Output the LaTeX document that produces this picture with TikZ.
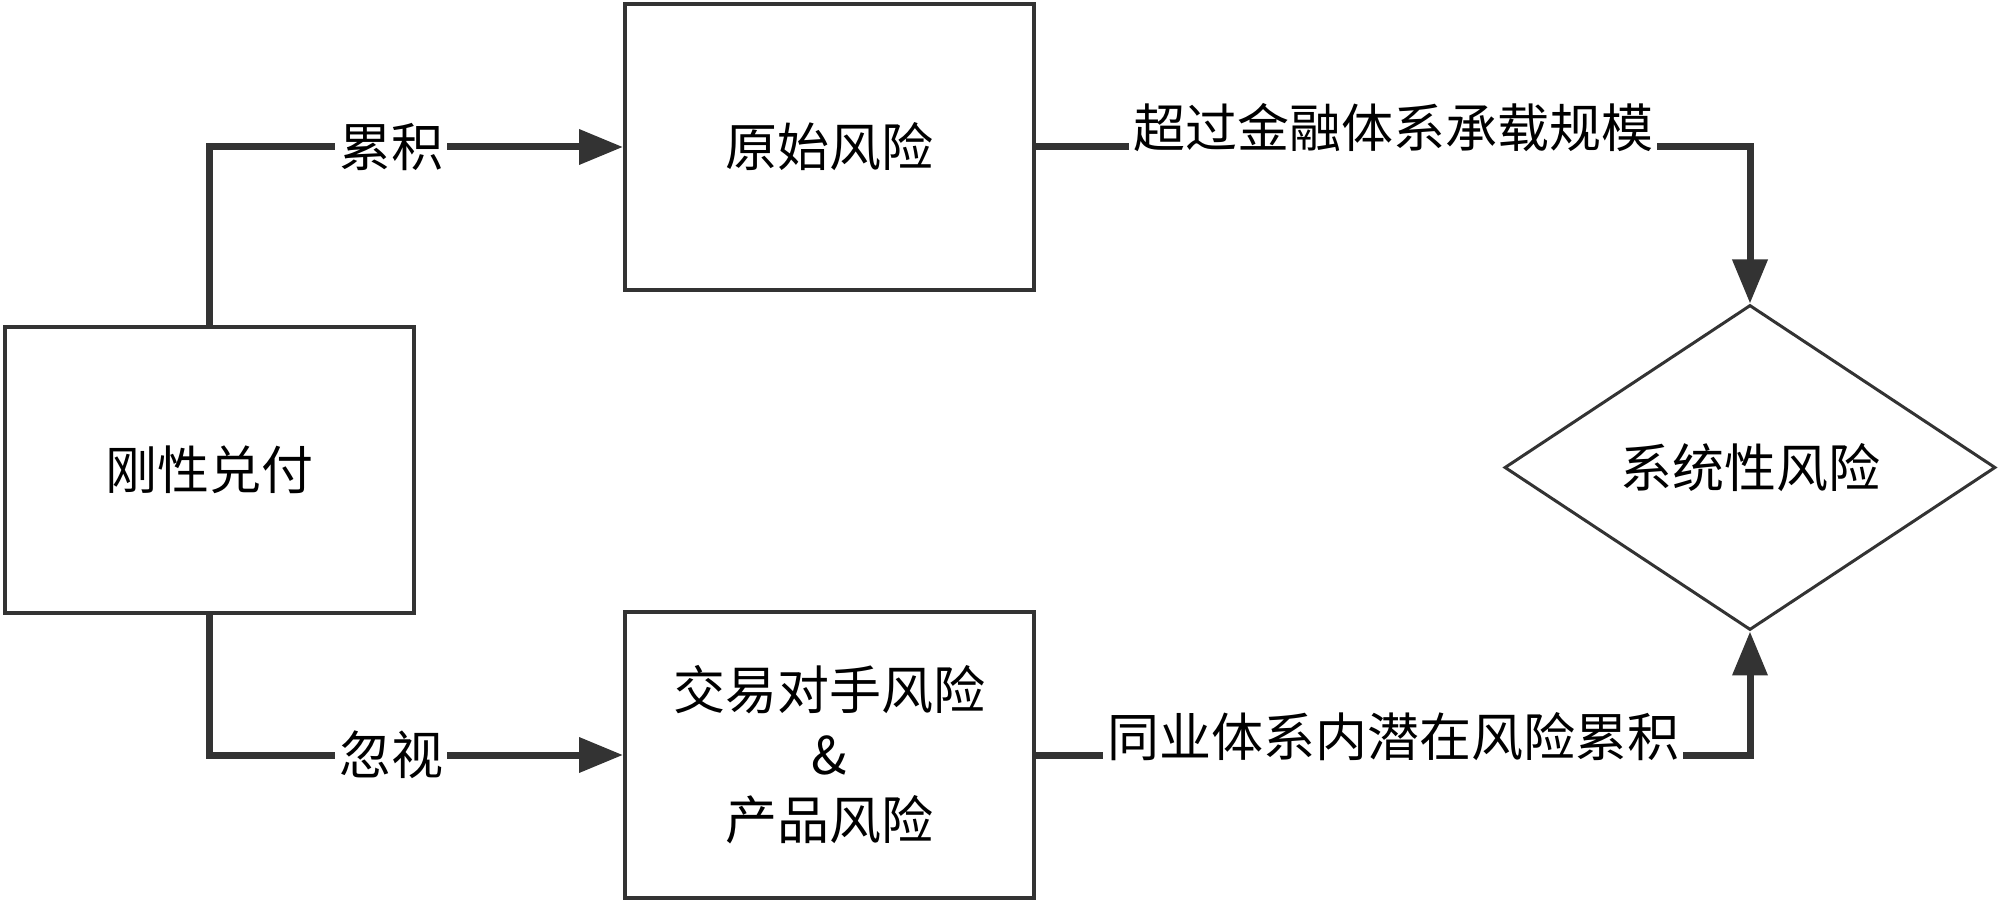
\documentclass[tikz,border=0pt]{standalone}
\usepackage{fontspec}
\setmainfont{Noto Sans CJK SC}
\usetikzlibrary{shapes.geometric,arrows.meta}
\definecolor{linec}{HTML}{333333}
\begin{document}
\begin{tikzpicture}[x=0.5pt,y=-0.5pt,
  every node/.style={font=\fontsize{26pt}{32.5pt}\selectfont},
  box/.style={draw=linec, line width=2pt, rectangle, inner sep=0pt, align=center,
    minimum width=204.5pt, minimum height=143pt},
  conn/.style={draw=linec, line width=3.5pt, -{Triangle[length=22pt,width=17pt]}},
  lbl/.style={fill=white, inner sep=2pt}]
\useasboundingbox (0,0) rectangle (1999,903);
\node[box] (A) at (209,470) {刚性兑付};
\node[box] (B) at (829.5,147) {原始风险};
\node[box] (C) at (829.5,755) {交易对手风险\\\&\\产品风险};
\node[diamond, draw=linec, line width=1.5pt, inner sep=0pt,
  minimum width=245.5pt, minimum height=162.5pt] (D) at (1750,467.5) {系统性风险};
\draw[conn] (A.north) |- (B.west) node[lbl, pos=0.72] {累积};
\draw[conn] (A.south) |- (C.west) node[lbl, pos=0.72] {忽视};
\draw[conn] (B.east) -| (D.north) node[lbl, pos=0.25, yshift=9.5pt] {超过金融体系承载规模};
\draw[conn] (C.east) -| (D.south) node[lbl, pos=0.25, yshift=9pt] {同业体系内潜在风险累积};
\end{tikzpicture}
\end{document}
